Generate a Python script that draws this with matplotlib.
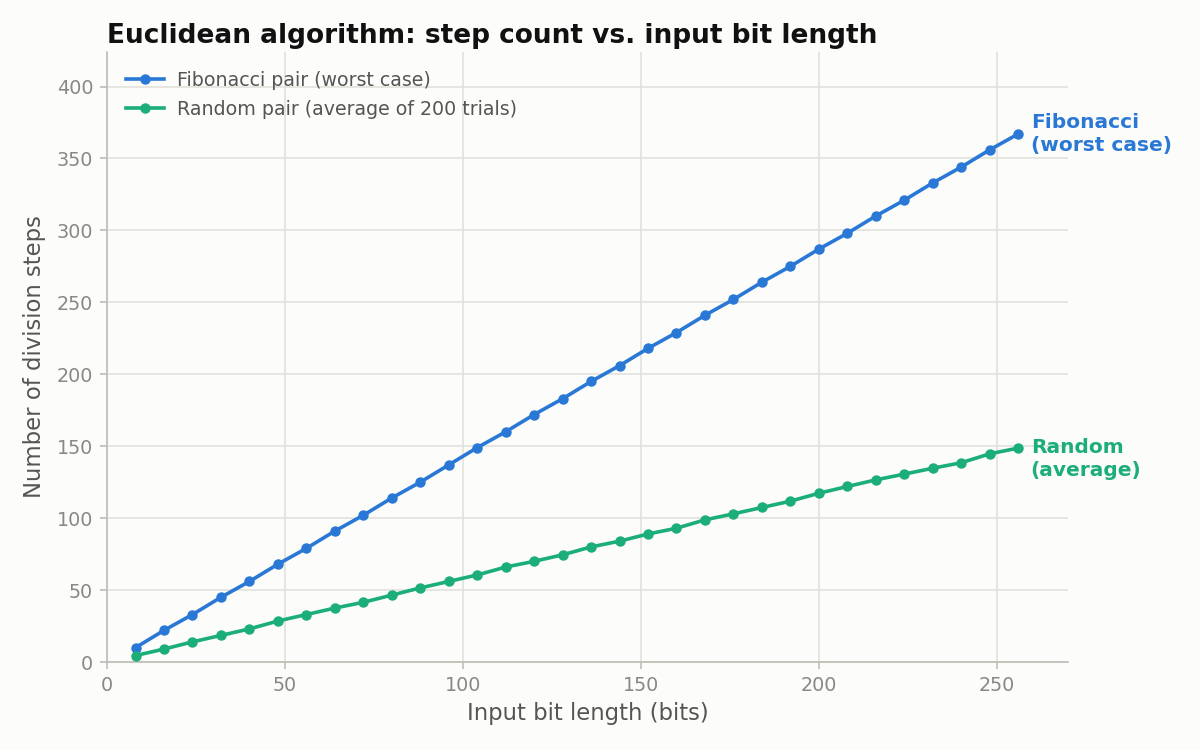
import matplotlib
matplotlib.use("Agg")
import matplotlib.pyplot as plt

plt.rcParams['font.family'] = ['DejaVu Sans']

bits = [8, 16, 24, 32, 40, 48, 56, 64, 72, 80, 88, 96, 104, 112, 120, 128,
        136, 144, 152, 160, 168, 176, 184, 192, 200, 208, 216, 224, 232, 240, 248, 256]
fib_steps = [10, 22, 33, 45, 56, 68, 79, 91, 102, 114, 125, 137, 149, 160, 172, 183,
             195, 206, 218, 229, 241, 252, 264, 275, 287, 298, 310, 321, 333, 344, 356, 367]
rand_steps = [4.5, 9, 14, 18.5, 23, 28.5, 33, 37.5, 41.5, 46.5, 51.5, 56, 60.5, 66, 70, 74.5,
              80, 84, 89, 93, 98.8, 103, 107.4, 111.8, 117.3, 122, 126.6, 130.6, 134.7, 138.5, 144.7, 148.7]

labels = ["Fibonacci pair (worst case)", "Random pair (average of 200 trials)"]
end_labels = ["Fibonacci\n(worst case)", "Random\n(average)"]

BLUE = "#2A78D6"
GREEN = "#1BAE78"
BG = "#FCFCFA"

fig = plt.figure(figsize=(12, 7.5), dpi=100, facecolor=BG)
ax = fig.add_axes([0.0892, 0.1173, 0.8008, 0.8134], facecolor=BG)

ax.plot(bits, fib_steps, color=BLUE, lw=2.6, marker='o', ms=6.5, label=labels[0], zorder=3)
ax.plot(bits, rand_steps, color=GREEN, lw=2.6, marker='o', ms=6.5, label=labels[1], zorder=3)

ax.annotate(end_labels[0], xy=(bits[-1], fib_steps[-1]), xytext=(9, 0), textcoords='offset points',
            color=BLUE, fontsize=14.5, fontweight='bold',
            va='center', ha='left', linespacing=1.3)
ax.annotate(end_labels[1], xy=(bits[-1], rand_steps[-1]), xytext=(9, -8), textcoords='offset points',
            color=GREEN, fontsize=14.5, fontweight='bold',
            va='center', ha='left', linespacing=1.3)

ax.set_xlim(0, 270)
ax.set_ylim(0, 424)
ax.set_xticks([0, 50, 100, 150, 200, 250])
ax.set_yticks([0, 50, 100, 150, 200, 250, 300, 350, 400])

ax.grid(True, color="#E2E2DC", lw=1.2, zorder=0)
ax.set_axisbelow(True)
for s in ['top', 'right']:
    ax.spines[s].set_visible(False)
for s in ['left', 'bottom']:
    ax.spines[s].set_color("#BDBDB5")
    ax.spines[s].set_linewidth(1.2)
ax.tick_params(colors="#BDBDB5", labelcolor="#888888", labelsize=13.8, length=5, width=1.2, pad=5)

ax.set_xlabel("Input bit length (bits)", fontsize=16.4, color="#555555", labelpad=5)
ax.set_ylabel("Number of division steps", fontsize=16.4, color="#555555", labelpad=8)

fig.text(0.0892, 0.952, "Euclidean algorithm: step count vs. input bit length",
         fontsize=19, fontweight='bold', color="#111111", ha='left', va='center')

leg = ax.legend(loc='upper left', frameon=False, fontsize=13.7, labelcolor="#555555",
                handlelength=2.0, handletextpad=0.7, labelspacing=0.52, borderaxespad=0.6)

fig.savefig("out.png", dpi=100, facecolor=BG)
